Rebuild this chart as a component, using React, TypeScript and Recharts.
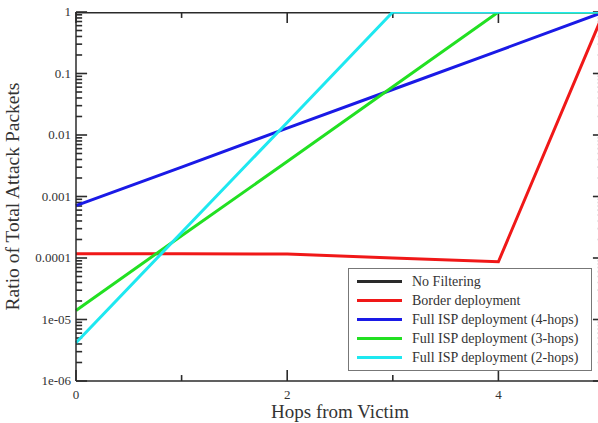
import { LineChart, Line, XAxis, YAxis, ReferenceLine } from 'recharts';

// hops from victim
const hops = [0, 1, 2, 3, 4, 5];

// ratio of total attack packets, per series
const noFiltering = [1, 1, 1, 1, 1, 1];
const border = [1.17e-4, 1.17e-4, 1.16e-4, 1.0e-4, 0.87e-4, 1];
const isp4 = [7.1e-4, 3.0e-3, 0.0129, 0.055, 0.234, 1];
const isp3 = [1.4e-5, 2.3e-4, 3.7e-3, 0.061, 1, 1];
const isp2 = [4.2e-6, 2.6e-4, 0.016, 1, 1, 1];

const xTicks = [0, 1, 2, 3, 4, 5];
const xLabels = ['0', '', '2', '', '4', ''];
const yMajor = [1e-6, 1e-5, 1e-4, 1e-3, 0.01, 0.1, 1];
const yLabels = ['1e-06', '1e-05', '0.0001', '0.001', '0.01', '0.1', '1'];

const series = [
  { key: 'nof', name: 'No Filtering', color: '#2a2a2a', values: noFiltering },
  { key: 'border', name: 'Border deployment', color: '#f01818', values: border },
  { key: 'isp4', name: 'Full ISP deployment (4-hops)', color: '#1a1ae6', values: isp4 },
  { key: 'isp3', name: 'Full ISP deployment (3-hops)', color: '#22e022', values: isp3 },
  { key: 'isp2', name: 'Full ISP deployment (2-hops)', color: '#1ee8f0', values: isp2 },
];

const data = hops.map((h, i) => {
  const row: Record<string, number> = { hop: h };
  series.forEach((s) => (row[s.key] = s.values[i]));
  return row;
});

// major + minor log ticks
const yTicks: number[] = [];
yMajor.forEach((m, i) => {
  yTicks.push(m);
  if (i < yMajor.length - 1) for (let k = 2; k <= 9; k++) yTicks.push(+(m * k).toPrecision(3));
});

const FONT = '"Liberation Serif", Tinos, "DejaVu Serif", serif';
const AX = '#2b2b2b';
const majorIndex = (v: number) => yMajor.findIndex((m) => Math.abs(v - m) / m < 1e-6);

// inward tick lengths, in axis units (~11px major, ~6px minor)
const X_MAJ = 0.105;
const X_MIN = 0.058;
const Y_MAJ = 1.51;
const Y_MIN = 1.25;

const LeftLabel = (props: any) => {
  const { x, y, payload } = props;
  const idx = majorIndex(payload.value);
  if (idx < 0) return <g />;
  return (
    <text x={x - 1} y={y + 4} textAnchor="end" fontSize={13} fill="#333" style={{ fontFamily: FONT }}>
      {yLabels[idx]}
    </text>
  );
};

const BottomLabel = (props: any) => {
  const { x, y, index } = props;
  return (
    <text x={x} y={y + 14} textAnchor="middle" fontSize={13} fill="#333" style={{ fontFamily: FONT }}>
      {xLabels[index]}
    </text>
  );
};

const LegendBox = () => (
  <div
    style={{
      position: 'absolute',
      left: 348,
      top: 268,
      border: '1.5px solid #777',
      background: '#fff',
      padding: '3px 6px 3px 8px',
      fontFamily: FONT,
      fontSize: 14,
      color: '#333',
      width: 228,
    }}
  >
    {series.map((s) => (
      <div key={s.key} style={{ display: 'flex', alignItems: 'center', height: 19 }}>
        <div style={{ width: 45, height: 3, background: s.color, marginRight: 10 }} />
        <span>{s.name}</span>
      </div>
    ))}
  </div>
);

export default function App() {
  return (
    <div style={{ position: 'absolute', left: 0, top: 0, width: 598, height: 423, overflow: 'hidden', background: '#fff', fontFamily: FONT }}>
      <LineChart width={606} height={423} data={data} margin={{ top: 12, right: 2, left: 0, bottom: 0 }} style={{ fontFamily: FONT }}>
        <XAxis
          dataKey="hop"
          type="number"
          domain={[0, 5]}
          ticks={xTicks}
          interval={0}
          height={42}
          stroke={AX}
          strokeWidth={1.5}
          tickLine={false}
          tickSize={0}
          tickMargin={4}
          tick={<BottomLabel />}
          label={{ value: 'Hops from Victim', position: 'insideBottom', offset: 5, fontSize: 19, fill: '#333', style: { fontFamily: FONT } }}
        />
        <XAxis xAxisId="top" orientation="top" dataKey="hop" type="number" domain={[0, 5]} height={0} stroke={AX} strokeWidth={1.5} tick={false} tickLine={false} />
        <YAxis
          scale="log"
          type="number"
          domain={[1e-6, 1]}
          allowDataOverflow
          ticks={yTicks}
          interval={0}
          width={76}
          stroke={AX}
          strokeWidth={1.5}
          tickLine={false}
          tickSize={0}
          tickMargin={4}
          tick={<LeftLabel />}
          label={{ value: 'Ratio of Total Attack Packets', angle: -90, position: 'insideLeft', offset: 12, fontSize: 19.5, fill: '#333', style: { textAnchor: 'middle', fontFamily: FONT } }}
        />
        <YAxis yAxisId="right" orientation="right" scale="log" type="number" domain={[1e-6, 1]} allowDataOverflow width={0} stroke={AX} strokeWidth={1.5} tick={false} tickLine={false} />
        {yTicks.map((v) => {
          const len = majorIndex(v) >= 0 ? X_MAJ : X_MIN;
          return [
            <ReferenceLine key={`l${v}`} segment={[{ x: 0, y: v }, { x: len, y: v }]} stroke={AX} strokeWidth={1.6} />,
            <ReferenceLine key={`r${v}`} segment={[{ x: 5 - len, y: v }, { x: 5, y: v }]} stroke={AX} strokeWidth={1.6} />,
          ];
        })}
        {xTicks.map((h) => {
          const f = h % 2 === 0 ? Y_MAJ : Y_MIN;
          return [
            <ReferenceLine key={`b${h}`} segment={[{ x: h, y: 1e-6 }, { x: h, y: 1e-6 * f }]} stroke={AX} strokeWidth={1.6} />,
            <ReferenceLine key={`t${h}`} segment={[{ x: h, y: 1 / f }, { x: h, y: 1 }]} stroke={AX} strokeWidth={1.6} />,
          ];
        })}
        {series.map((s) => (
          <Line
            key={s.key}
            dataKey={s.key}
            name={s.name}
            type="linear"
            stroke={s.color}
            strokeWidth={3}
            dot={false}
            isAnimationActive={false}
          />
        ))}
      </LineChart>
      <LegendBox />
    </div>
  );
}
